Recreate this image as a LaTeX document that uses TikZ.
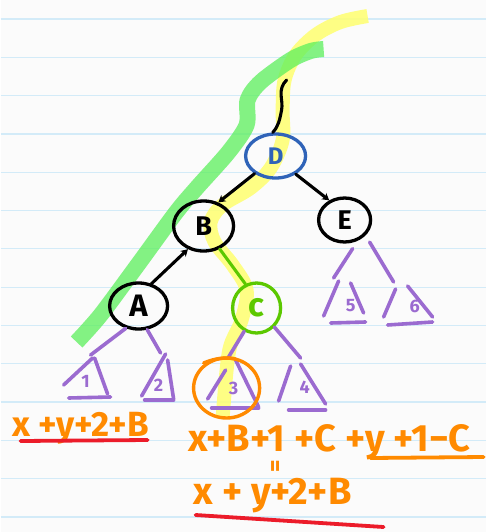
\documentclass[tikz,border=0pt]{standalone}
\usepackage{fontspec}
\setmainfont{Fira Sans}
\usetikzlibrary{shapes.geometric,arrows.meta,calc}
\definecolor{paper}{HTML}{FBFBFB}
\definecolor{rule}{HTML}{D3EBF8}
\definecolor{hlgreen}{HTML}{5CF05C}
\definecolor{hlyellow}{HTML}{FFFF70}
\definecolor{penblue}{HTML}{2F63B8}
\definecolor{pengreen}{HTML}{5CC800}
\definecolor{penpurple}{HTML}{9B6BD0}
\definecolor{penorange}{HTML}{FF8A00}
\definecolor{penred}{HTML}{EC1C2A}
\begin{document}
\begin{tikzpicture}[x=1pt,y=-1pt,
  tnode/.style={ellipse, draw, line width=3.3pt, inner sep=0pt, font=\fontsize{27}{27}\selectfont\bfseries},
  blk/.style={line width=3.1pt, line cap=round},
  tip/.style={-{Stealth[length=7pt,width=8pt]}},
  purp/.style={penpurple, line width=3.6pt, line cap=round},
  leaf/.style={penpurple, inner sep=0pt, font=\fontsize{18}{18}\selectfont\bfseries},
  hl/.style={line width=16pt, line join=round, line cap=butt},
  eq/.style={penorange, inner sep=0pt, font=\fontsize{38}{38}\selectfont\bfseries},
  uline/.style={line width=3.8pt, line cap=round},
]
\fill[paper] (0,0) rectangle (485,532);
\foreach \k in {0,...,13} \draw[rule, line width=1.2pt] (0,{19+38.3*\k}) -- (485,{19+38.3*\k});
\useasboundingbox (0,0) rectangle (485,532);

% highlighter strokes
\draw[hl, hlyellow, opacity=0.85, line width=14pt] plot[smooth, tension=0.55] coordinates {
  (367,16) (340,22) (315,35) (295,55) (284,80) (282,110) (282,140) (270,168) (250,188)
  (222,205) (210,222) (214,242) (232,265) (246,290) (241,320) (230,345) (226,370) (222,418)};
\draw[hl, hlgreen, opacity=0.75] plot[smooth, tension=0.5] coordinates {
  (76,342) (100,315) (137,265) (175,213) (196,188) (228,152) (246,125) (247,100)
  (260,82) (290,60) (310,51) (323,49)};

% tree nodes
\node[tnode, penblue, minimum width=60pt, minimum height=44pt, font=\fontsize{24}{24}\selectfont\bfseries] (D) at (275,156) {D};
\node[tnode, minimum width=60pt, minimum height=50pt] (B) at (203,226) {B};
\node[tnode, minimum width=52pt, minimum height=44pt] (E) at (344,220) {E};
\node[tnode, minimum width=58pt, minimum height=46pt, font=\fontsize{31}{31}\selectfont\bfseries] (A) at (138,306) {A};
\node[tnode, pengreen, minimum width=48pt, minimum height=50pt, font=\fontsize{33}{33}\selectfont\bfseries] (C) at (256,308) {c};

% black / green connectors
\coordinate (top) at (286,80);
\draw[blk] (top) .. controls (276,90) and (283,100) .. (281,110) .. controls (279,120) and (278,126) .. (D.97);
\draw[blk, tip] (D.220) -- (B.58);
\draw[blk, tip] (D.318) -- (E.128);
\draw[blk, tip] (A.60) -- (B.236);
\draw[blk, pengreen] (B.305) -- (C.115);

% purple subtrees under A
\draw[purp] (A.240) -- (90,355);
\draw[purp] (92,358) -- (63,385);
\draw[purp] (94,358) -- (107,394);
\draw[purp] (68,398) -- (110,397);
\node[leaf] (L1) at (85,381) {1};
\draw[purp] (A.290) -- (160,353);
\draw[purp] (165,354) -- (141,396);
\draw[purp] (167,360) -- (173,399);
\draw[purp] (144,400) -- (173,400);
\node[leaf] (L2) at (158,385) {2};

% purple subtrees under C
\draw[purp] (C.242) -- (228,357);
\draw[purp] (225,370) -- (207,399);
\draw[purp] (235,360) -- (258,407);
\draw[purp] (211,408) -- (258,408);
\node[leaf] (L3) at (233,388) {3};
\draw[purp] (C.313) -- (300,358);
\draw[purp] (290,366) -- (278,401);
\draw[purp] (300,364) -- (325,404);
\draw[purp] (288,410) -- (325,410);
\node[leaf] (L4) at (304,387) {4};

% purple subtrees under E
\draw[purp] ($(E.south)+(8,5)$) -- (333,278);
\draw[purp] (338,281) -- (323,316);
\draw[purp] (350,283) -- (363,313);
\draw[purp] (330,323) -- (365,322);
\node[leaf] (L5) at (350,306) {5};
\draw[purp] ($(E.318)+(6,5)$) -- (393,282);
\draw[purp] (395,289) -- (383,317);
\draw[purp] (407,286) -- (432,317);
\draw[purp] (387,325) -- (432,322);
\node[leaf] (L6) at (414,306) {6};

% orange ring around subtree 3
\draw[penorange, line width=3.4pt] (226,388) ellipse [x radius=33, y radius=30];
\draw[penorange, line width=3.4pt, line cap=round] (203,363) .. controls (215,358) and (225,357) .. (235,359);

% equations
\node[eq, font=\fontsize{35}{35}\selectfont\bfseries] (s1) at (80,428) {x +y+2+B};
\draw[uline, penred] (20,441) -- (147,440);
\node[eq] (s2) at (329,442) {x+B+1 +C +y +1−C};
\draw[uline, penorange] (370,458) -- (483,457);
\node[eq, rotate=90, font=\fontsize{24}{24}\selectfont\bfseries] (eqv) at (277,466) {=};
\node[eq] (s3) at (272,496) {x + y+2+B};
\draw[uline, penred] (195,515) -- (383,527);
\end{tikzpicture}
\end{document}
